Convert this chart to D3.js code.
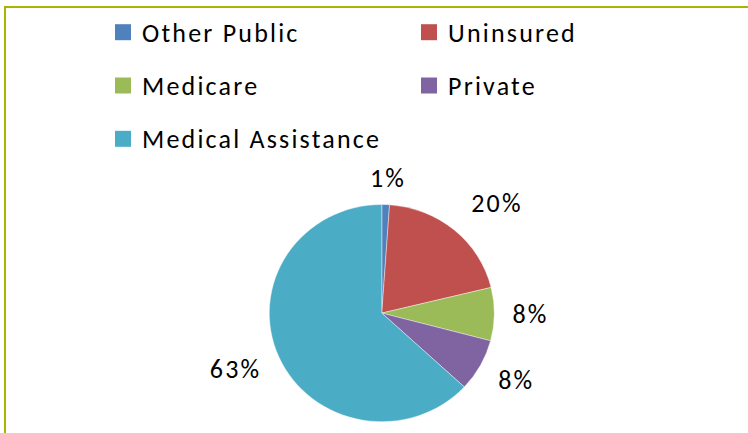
<!DOCTYPE html>
<html>
<head>
<meta charset="utf-8">
<script src="https://cdn.jsdelivr.net/npm/d3@7"></script>
<style>
  html, body { margin: 0; padding: 0; background: #ffffff; }
  svg { display: block; }
  text { font-family: Carlito, Lato, "Open Sans", sans-serif; fill: #000; }
</style>
</head>
<body>
<svg id="chart" width="748" height="433"></svg>
<script>
// ---- data ----
const categories = ["Other Public", "Uninsured", "Medicare", "Private", "Medical Assistance"];
const values = [1.1, 20.1, 7.9, 7.8, 63.1];
const valueLabels = ["1%", "20%", "8%", "8%", "63%"];
const colors = ["#4F81BD", "#C0504D", "#9BBB59", "#8064A2", "#4BACC6"];

// ---- layout ----
const W = 748, H = 433;
const cx = 381.8, cy = 313.1;
const ry = 108.6, rx = 112.5;
const sx = rx / ry;
const labelR = 125;
const labelNudge = [[0, 0], [14, -7], [0, 0], [4, 2], [-5, 2]];
const fontSize = 26;
const letterSpacing = 2.2;

const svg = d3.select("#chart");

svg.append("rect")
  .attr("x", 5).attr("y", 7)
  .attr("width", W + 20).attr("height", H + 20)
  .attr("fill", "#ffffff")
  .attr("stroke", "#aab400")
  .attr("stroke-width", 2);

// legend: two columns, row-major order
const colX = d3.scaleOrdinal().domain([0, 1]).range([115, 421]);
const rowY = d3.scaleLinear().domain([0, 1]).range([41.7, 95]);
const legend = svg.append("g");
categories.forEach((c, i) => {
  const col = i % 2, row = Math.floor(i / 2);
  const g = legend.append("g")
    .attr("transform", `translate(${colX(col)},${rowY(row)})`);
  g.append("rect")
    .attr("x", 0).attr("y", -17.5)
    .attr("width", 16).attr("height", 16)
    .attr("fill", colors[i]);
  g.append("text")
    .attr("x", 27).attr("y", 0)
    .attr("font-size", fontSize)
    .attr("letter-spacing", letterSpacing)
    .text(c);
});

// pie
const pie = d3.pie().sort(null).startAngle(0).endAngle(2 * Math.PI);
const arcs = pie(values);
const arc = d3.arc().innerRadius(0).outerRadius(ry);

const pieG = svg.append("g")
  .attr("transform", `translate(${cx},${cy}) scale(${sx},1)`);
pieG.selectAll("path")
  .data(arcs)
  .join("path")
  .attr("d", arc)
  .attr("fill", (d, i) => colors[i])
  .attr("stroke", "#ffffff")
  .attr("stroke-width", 0.4);

// labels
const labG = svg.append("g").attr("transform", `translate(${cx},${cy})`);
arcs.forEach((d, i) => {
  const a = (d.startAngle + d.endAngle) / 2;
  const s = Math.sin(a), c = Math.cos(a);
  const t = labG.append("text")
    .attr("font-size", fontSize)
    .attr("letter-spacing", letterSpacing)
    .attr("text-anchor", "middle")
    .text(valueLabels[i]);
  const w = t.node().getComputedTextLength();
  const h = 20;
  const x = sx * labelR * s + s * w / 2 + labelNudge[i][0] + letterSpacing / 2;
  const y = -labelR * c - c * h / 2 + labelNudge[i][1];
  t.attr("x", x).attr("y", y + 9);
});
</script>
</body>
</html>
